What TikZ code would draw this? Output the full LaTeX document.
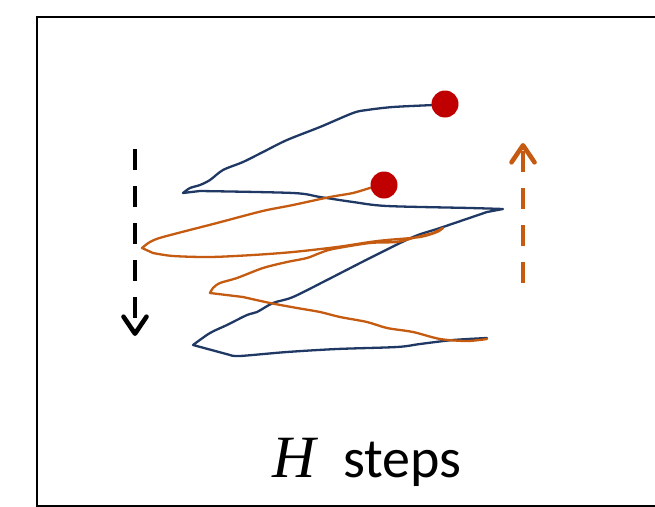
\documentclass[tikz,border=0pt]{standalone}
\usepackage{fontspec}
\setmainfont{Latin Modern Roman}
\newfontfamily\labelfont{Carlito}
\newfontfamily\symfont{Liberation Serif}
\usetikzlibrary{arrows.meta}
\definecolor{navy}{HTML}{1F3864}
\definecolor{rust}{HTML}{C55A11}
\definecolor{dotred}{HTML}{C00000}
\tikzset{
  traj/.style={line width=2.3pt, line join=round, line cap=round},
  goal/.style={circle, fill=dotred, minimum size=27pt, inner sep=0pt},
  dirarrow/.style={line width=4.6pt, dash pattern=on 21pt off 16pt,
    -{Straight Barb[length=17pt, width=23pt, round]}},
}
\begin{document}
\begin{tikzpicture}[x=1pt, y=-1pt]
  \useasboundingbox (0,0) rectangle (655,506);
  \clip (0,0) rectangle (655,506);
  % frame
  \draw[line width=2.6pt] (37,17) rectangle (720,506);

  % anchor points of the two trajectories and the direction arrows
  \coordinate (navystart) at (445,104);
  \coordinate (ruststart) at (384,185);
  \coordinate (downtop) at (135,149);
  \coordinate (downend) at (135,336);
  \coordinate (uptail) at (523,283);
  \coordinate (uptip) at (523,143);

  % navy trajectory
  \draw[traj, navy] plot[smooth, tension=0.5] coordinates {
      (navystart) (433,105) (393,107) (367,110) (353,113) (320,127) (287,140)
      (263,152) (243,162) (223,170) (210,180) (200,185) (190,188) (183,193)}
    -- plot[smooth, tension=0.5] coordinates {
      (200,191) (293,193) (320,197) (353,202) (387,206) (470,208) (503,209)}
    -- plot[smooth, tension=0.5] coordinates {
      (487,212) (440,228) (413,237) (370,258) (327,280) (293,297) (273,303)
      (257,312) (247,315) (227,325) (210,333) (193,345)}
    -- plot[smooth, tension=0.5] coordinates {
      (230,355) (240,356) (287,352) (337,349) (397,347) (420,344) (453,340) (487,338)};

  % orange trajectory
  \draw[traj, rust] plot[smooth, tension=0.5] coordinates {
      (ruststart) (370,188) (353,193) (330,197) (293,205) (267,210) (247,215)
      (217,223) (163,237) (150,242) (142,248)}
    -- plot[smooth, tension=0.5] coordinates {
      (153,253) (173,256) (210,257) (253,255) (293,252) (337,247) (370,242)
      (387,240) (420,237) (437,232) (443,228)}
    -- plot[smooth, tension=0.5] coordinates {
      (433,233) (413,238) (397,242) (370,243) (333,249) (320,253) (307,258)
      (287,262) (263,268) (237,278) (220,283) (213,288) (210,293)}
    -- plot[smooth, tension=0.5] coordinates {
      (243,297) (270,303) (297,308) (320,312) (340,317) (367,322) (387,328)
      (413,332) (440,339) (467,341) (487,339)};

  % goal markers
  \node[goal] (goalnavy) at (navystart) {};
  \node[goal] (goalrust) at (ruststart) {};

  % direction arrows
  \draw[dirarrow, black] (downtop) -- (downend);
  \draw[dirarrow, rust] (uptail) -- (uptip);

  % caption
  \node[anchor=base west, inner sep=0pt] (hsym) at (272,477)
    {\fontsize{60}{64}\selectfont\symfont\itshape H};
  \node[anchor=base west, inner sep=0pt] (steps) at (343,477)
    {\fontsize{56}{60}\selectfont\labelfont steps};
\end{tikzpicture}
\end{document}
